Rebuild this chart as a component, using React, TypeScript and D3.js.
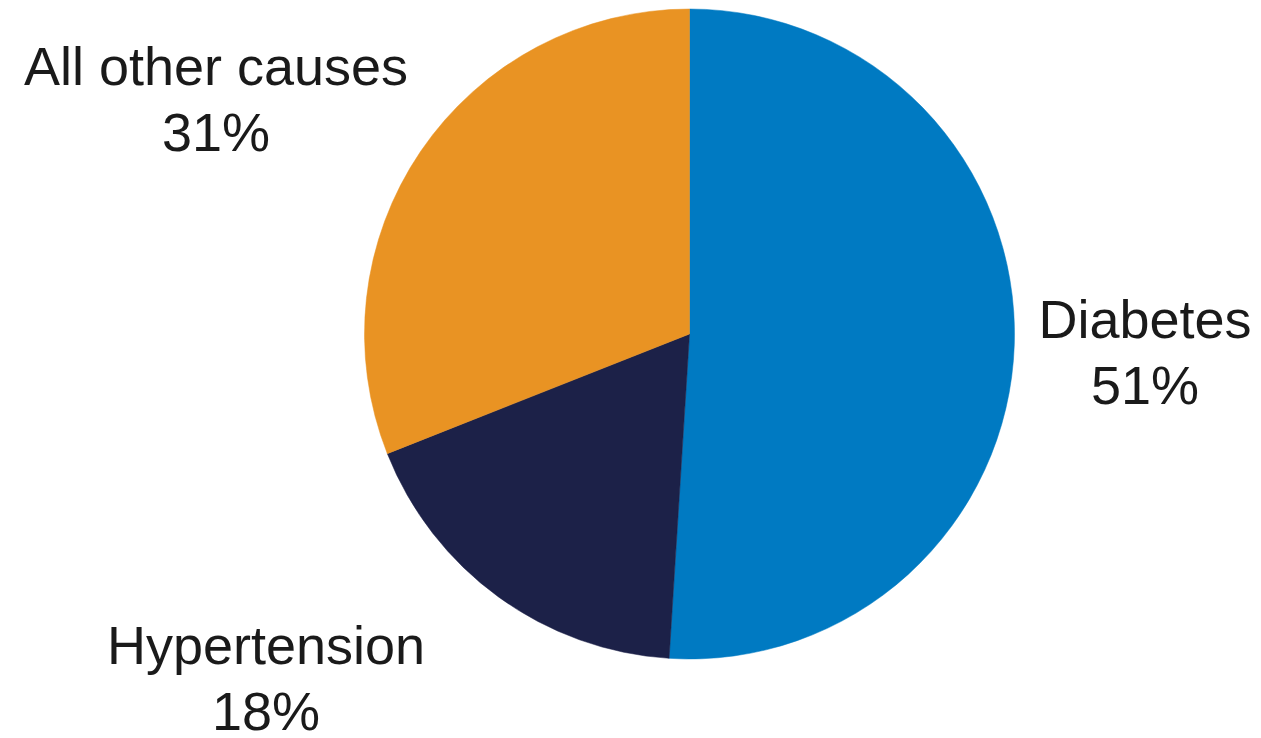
import React from "react";
import * as d3 from "d3";

const categories = ["Diabetes", "Hypertension", "All other causes"];
const values = [51, 18, 31];
const colors = ["#007AC2", "#1C2148", "#E99323"];
const labelPos: [number, number][] = [
  [1145, 338],
  [266, 664],
  [216, 85],
];

export default function App() {
  const W = 1261, H = 738;
  const cx = 689.5, cy = 334, r = 325;
  const pie = d3.pie<number>().sort(null).value((d) => d)(values);
  const arc = d3.arc<d3.PieArcDatum<number>>().innerRadius(0).outerRadius(r);
  return (
    <svg width={W} height={H} style={{ position: "absolute", left: 0, top: 0 }}>
      <rect width={W} height={H} fill="#fff" />
      <g transform={`translate(${cx},${cy})`}>
        {pie.map((p, i) => (
          <path key={i} d={arc(p) || ""} fill={colors[i]} stroke={colors[i]} strokeWidth={0.5} />
        ))}
      </g>
      {categories.map((c, i) => (
        <text
          key={c}
          x={labelPos[i][0]}
          y={labelPos[i][1]}
          textAnchor="middle"
          fontFamily="'Liberation Sans', Arial, sans-serif"
          fontSize={54}
          fill="#1a1a1a"
        >
          <tspan x={labelPos[i][0]}>{c}</tspan>
          <tspan x={labelPos[i][0]} dy={66}>{values[i]}%</tspan>
        </text>
      ))}
    </svg>
  );
}
